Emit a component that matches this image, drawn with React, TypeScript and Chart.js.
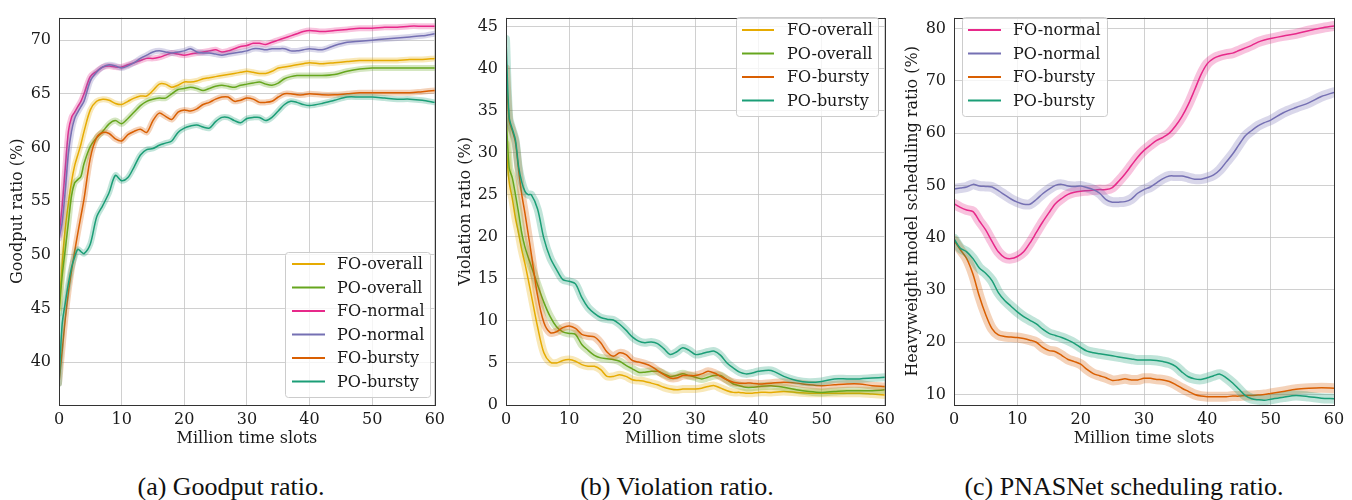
import React, { useEffect, useRef } from 'react';
import { Chart, registerables } from 'chart.js';

Chart.register(...registerables);

// ---------------- data ----------------
const X_AB = [0, 0.5, 1, 1.5, 2, 2.5, 3, 3.5, 4, 5, 6, 7, 8, 9, 10, 11, 12, 13, 14, 15, 16, 17, 18, 19, 20, 21, 22, 23, 24, 25, 26, 27, 28, 29, 30, 31, 32, 33, 34, 35, 36, 37, 38, 39, 40, 42, 44, 46, 48, 50, 52, 54, 56, 58, 60];
const X_C = [0, 1, 2, 3, 4, 5, 6, 7, 8, 9, 10, 11, 12, 13, 14, 15, 16, 17, 18, 19, 20, 21, 22, 23, 24, 25, 26, 27, 28, 29, 30, 31, 32, 33, 34, 35, 36, 37, 38, 39, 40, 41, 42, 43, 44, 45, 46, 47, 48, 49, 50, 52, 54, 56, 58, 60];
const X_TICKS = [0, 10, 20, 30, 40, 50, 60];

// (a) Goodput ratio (%)
const GOODPUT_FO_OVERALL = [45, 49, 52.5, 54.8, 56.8, 58.3, 59.3, 60.3, 61.5, 63.5, 64.3, 64.5, 64.4, 64.1, 64.0, 64.3, 64.6, 64.8, 64.8, 65.3, 65.9, 65.9, 65.6, 65.8, 66.1, 66.1, 66.2, 66.4, 66.5, 66.6, 66.7, 66.8, 66.9, 67.0, 67.1, 67.0, 66.9, 66.9, 67.1, 67.4, 67.5, 67.6, 67.7, 67.8, 67.9, 67.8, 67.9, 68.0, 68.1, 68.1, 68.1, 68.1, 68.2, 68.2, 68.3];
const GOODPUT_PO_OVERALL = [44.5, 48, 50.5, 53, 55.5, 56.7, 57, 57.3, 58.5, 60.1, 60.9, 61.5, 62.2, 62.5, 62.2, 62.7, 63.3, 63.9, 64.3, 64.5, 64.6, 64.6, 65.0, 65.4, 65.5, 65.6, 65.5, 65.3, 65.5, 65.7, 65.8, 65.7, 65.6, 65.8, 65.9, 66.0, 66.1, 65.9, 65.8, 66.0, 66.4, 66.6, 66.7, 66.7, 66.7, 66.7, 66.8, 67.1, 67.3, 67.4, 67.4, 67.4, 67.4, 67.4, 67.4];
const GOODPUT_FO_NORMAL = [51.8, 54.5, 58, 61.5, 62.8, 63.3, 63.8, 64.3, 65.0, 66.6, 67.1, 67.5, 67.6, 67.5, 67.5, 67.7, 67.9, 68.1, 68.3, 68.3, 68.4, 68.6, 68.8, 68.7, 68.6, 68.7, 68.8, 68.9, 69.0, 69.1, 68.9, 69.0, 69.2, 69.4, 69.5, 69.7, 69.7, 69.6, 69.8, 70.0, 70.2, 70.4, 70.6, 70.8, 70.9, 70.8, 70.9, 71.0, 71.1, 71.1, 71.2, 71.2, 71.3, 71.3, 71.3];
const GOODPUT_PO_NORMAL = [51.5, 53, 56, 59.5, 61.5, 62.7, 63.3, 63.8, 64.3, 66.2, 67.0, 67.5, 67.7, 67.6, 67.4, 67.6, 67.9, 68.3, 68.6, 68.9, 69.0, 68.9, 68.8, 68.9, 69.0, 69.2, 68.9, 68.8, 68.8, 68.7, 68.6, 68.7, 68.8, 68.9, 69.0, 69.2, 69.2, 69.1, 69.2, 69.2, 69.2, 69.0, 69.0, 69.1, 69.2, 69.1, 69.5, 69.8, 69.9, 70.0, 70.1, 70.2, 70.3, 70.4, 70.6];
const GOODPUT_FO_BURSTY = [38, 41, 44, 46.5, 48.5, 50.3, 52, 53.6, 55.2, 59, 60.9, 61.4, 61.3, 60.8, 60.6, 61.2, 61.5, 61.7, 61.4, 62.5, 63.2, 62.9, 62.6, 63.3, 63.5, 63.4, 63.6, 64.0, 64.2, 64.5, 64.7, 64.7, 64.3, 64.4, 64.6, 64.5, 64.2, 64.2, 64.3, 64.7, 65.0, 65.0, 64.9, 64.9, 65.0, 64.9, 64.9, 65.0, 65.1, 65.1, 65.1, 65.1, 65.1, 65.2, 65.3];
const GOODPUT_PO_BURSTY = [38, 43.5, 45.5, 47.3, 48.8, 49.8, 50.5, 50.3, 50.1, 51.0, 53.5, 54.6, 55.8, 57.4, 56.9, 57.2, 58.2, 59.3, 59.8, 59.9, 60.2, 60.4, 60.6, 61.4, 61.8, 62.0, 62.1, 61.9, 61.8, 62.4, 62.8, 62.8, 62.5, 62.3, 62.7, 62.8, 62.8, 62.5, 62.8, 63.4, 64.0, 64.3, 64.2, 64.0, 63.9, 64.1, 64.4, 64.7, 64.7, 64.7, 64.6, 64.5, 64.5, 64.4, 64.2];
const GOODPUT_TICKS = [40, 45, 50, 55, 60, 65, 70];

// (b) Violation ratio (%)
const VIOL_FO_OVERALL = [31, 26.5, 24.5, 22.2, 20.4, 18.4, 16.8, 15, 13.1, 9.3, 6.2, 5.1, 5.0, 5.3, 5.4, 5.2, 4.8, 4.6, 4.6, 4.2, 3.4, 3.4, 3.6, 3.4, 3.0, 2.9, 2.8, 2.6, 2.4, 2.1, 1.9, 1.8, 1.9, 1.9, 1.9, 2.0, 2.2, 2.3, 2.0, 1.7, 1.5, 1.5, 1.4, 1.4, 1.5, 1.5, 1.6, 1.5, 1.4, 1.4, 1.4, 1.4, 1.4, 1.3, 1.2];
const VIOL_PO_OVERALL = [35, 28.2, 27, 25, 22.8, 20.4, 18.8, 17.6, 16.5, 14.3, 12.2, 10.5, 9.3, 8.7, 8.5, 8.4, 7.2, 6.5, 5.9, 5.6, 5.5, 5.4, 5.2, 4.7, 4.3, 3.9, 3.9, 4.0, 4.0, 3.7, 3.4, 3.5, 3.7, 3.5, 3.3, 3.1, 3.3, 3.5, 3.5, 3.0, 2.5, 2.3, 2.1, 2.1, 2.2, 2.3, 2.1, 1.8, 1.6, 1.5, 1.6, 1.7, 1.7, 1.7, 1.8];
const VIOL_FO_BURSTY = [40, 33.8, 32.6, 31.2, 27.9, 25, 22.8, 20.4, 18.0, 13, 9.8, 8.6, 8.7, 9.2, 9.4, 9.1, 8.4, 8.2, 8.1, 7.4, 6.3, 5.8, 6.2, 6.0, 5.3, 5.1, 4.9, 4.6, 4.1, 3.6, 3.2, 3.2, 3.5, 3.5, 3.5, 3.7, 4.0, 3.8, 3.4, 3.0, 2.7, 2.6, 2.6, 2.6, 2.5, 2.6, 2.7, 2.6, 2.4, 2.3, 2.4, 2.5, 2.5, 2.3, 2.2];
const VIOL_PO_BURSTY = [43.5, 34.2, 32.8, 31.5, 28.3, 26.5, 25.4, 25.0, 25.0, 23.3, 19.8, 17.5, 16.1, 14.9, 14.7, 14.4, 12.8, 11.6, 10.9, 10.4, 10.2, 10.1, 9.6, 8.9, 8.1, 7.6, 7.4, 7.5, 7.3, 6.7, 6.0, 6.3, 6.8, 6.5, 6.0, 6.1, 6.3, 6.4, 5.9, 5.0, 4.4, 3.9, 3.7, 3.8, 4.0, 4.1, 3.4, 2.9, 2.7, 2.8, 3.1, 3.1, 3.1, 3.2, 3.3];
const VIOL_TICKS = [0, 5, 10, 15, 20, 25, 30, 35, 40, 45];

// (c) Heavyweight model scheduling ratio (%)
const SCHED_FO_NORMAL = [46.5, 45.8, 45.3, 45.0, 43.2, 41.5, 39.3, 37.3, 36.2, 36.0, 36.4, 37.3, 39.0, 41.0, 43.0, 44.8, 46.5, 47.5, 48.3, 48.7, 48.9, 49.0, 49.1, 49.2, 49.2, 49.6, 50.8, 52.2, 53.8, 55.4, 56.7, 57.7, 58.6, 59.2, 60.0, 61.4, 63.2, 65.5, 68.3, 71.2, 73.3, 74.3, 74.8, 75.1, 75.3, 75.8, 76.3, 76.8, 77.4, 77.8, 78.1, 78.6, 79.0, 79.6, 80.1, 80.5];
const SCHED_PO_NORMAL = [49.3, 49.5, 49.7, 50.2, 49.9, 49.8, 49.7, 49.0, 48.2, 47.4, 46.8, 46.4, 46.4, 47.3, 48.4, 49.3, 50.0, 50.2, 49.9, 49.8, 49.9, 49.6, 49.2, 48.5, 47.3, 46.8, 46.8, 46.9, 47.4, 48.5, 49.2, 49.7, 50.5, 51.3, 51.8, 51.8, 51.8, 51.5, 51.2, 51.2, 51.5, 52.0, 53.0, 54.5, 56.0, 57.8, 59.5, 60.5, 61.4, 62.0, 62.5, 63.9, 64.9, 65.8, 67.0, 67.8];
const SCHED_FO_BURSTY = [39.5, 37.7, 36.0, 33.0, 28.8, 25.3, 22.6, 21.4, 21.1, 21.0, 20.9, 20.7, 20.4, 20.0, 19.0, 18.4, 18.2, 17.5, 16.7, 16.3, 15.8, 14.8, 14.0, 13.6, 13.2, 12.7, 12.8, 13.0, 12.8, 12.8, 13.1, 13.1, 12.9, 12.8, 12.5, 11.9, 11.2, 10.6, 10.0, 9.7, 9.6, 9.6, 9.6, 9.6, 9.7, 9.7, 9.8, 9.8, 9.9, 10.0, 10.2, 10.6, 11.0, 11.2, 11.3, 11.2];
const SCHED_PO_BURSTY = [39.8, 38.0, 37.3, 36.0, 34.2, 33.2, 31.8, 29.5, 28.0, 26.9, 25.8, 24.9, 24.2, 23.5, 22.5, 21.7, 21.3, 20.9, 20.4, 19.8, 19.0, 18.3, 18.0, 17.8, 17.6, 17.4, 17.2, 17.0, 16.8, 16.6, 16.6, 16.6, 16.5, 16.3, 16.0, 15.4, 14.3, 13.4, 13.0, 12.9, 13.2, 13.6, 13.9, 13.2, 12.2, 11.0, 9.8, 9.2, 9.0, 8.9, 9.1, 9.5, 9.8, 9.6, 9.3, 9.2];
const SCHED_TICKS = [10, 20, 30, 40, 50, 60, 70, 80];

// ---------------- styles ----------------
const COLORS: Record<string, string> = {
  'FO-overall': '#e6ab02',
  'PO-overall': '#66a61e',
  'FO-normal': '#e7298a',
  'PO-normal': '#7570b3',
  'FO-bursty': '#d95f02',
  'PO-bursty': '#1b9e77',
};
const FONT_FAMILY = '"DejaVu Serif", serif';
const FONT_SIZE = 16;
const TEXT = '#1a1a1a';
const GRID = '#c4c4c4';

function rgba(hex: string, a: number) {
  const n = parseInt(hex.slice(1), 16);
  return `rgba(${(n >> 16) & 255},${(n >> 8) & 255},${n & 255},${a})`;
}

type Series = { label: string; data: number[] };
type LegendSpec = { boxX: number; boxY: number; boxW: number; boxH: number; rowY0: number; rowDy: number; lineX0: number; lineX1: number; textX: number };

interface PanelProps {
  left: number;
  width: number;
  height: number;
  xs: number[];
  series: Series[];
  yMin: number;
  yMax: number;
  yTicks: number[];
  yTitle: string;
  yAxisW: number;
  padRight: number;
  yTitlePad: number;
  band: number;
  legend: LegendSpec;
}

function Panel(p: PanelProps) {
  const ref = useRef<HTMLCanvasElement>(null);
  useEffect(() => {
    const canvas = ref.current;
    if (!canvas) return;
    const n = p.series.length;
    const datasets: any[] = [];
    p.series.forEach((s, i) => {
      const pts = p.xs.map((x, j) => ({ x, y: s.data[j] }));
      const col = COLORS[s.label];
      datasets.push({
        label: s.label + ' band',
        data: pts,
        borderColor: rgba(col, 0.28),
        backgroundColor: 'transparent',
        borderWidth: p.band,
        borderJoinStyle: 'round',
        borderCapStyle: 'round',
        pointRadius: 0,
        tension: 0.3,
        clip: 0,
        order: 2 * (n - i) + 1,
      });
      datasets.push({
        label: s.label,
        data: pts,
        borderColor: col,
        backgroundColor: 'transparent',
        borderWidth: 1.5,
        pointRadius: 0,
        tension: 0.3,
        clip: 0,
        order: 2 * (n - i),
      });
    });

    const font = { family: FONT_FAMILY, size: FONT_SIZE };
    const lg = p.legend;
    const framePlugin = {
      id: 'frameAndLegend',
      afterDraw(chart: any) {
        const { ctx, chartArea: a } = chart;
        ctx.save();
        ctx.strokeStyle = '#333';
        ctx.lineWidth = 1;
        ctx.strokeRect(Math.round(a.left) + 0.5, Math.round(a.top) + 0.5, Math.round(a.right - a.left), Math.round(a.bottom - a.top));
        // legend
        ctx.fillStyle = 'rgba(255,255,255,0.8)';
        ctx.strokeStyle = '#cccccc';
        ctx.lineWidth = 1;
        const r = 3;
        const x0 = lg.boxX + 0.5, y0 = lg.boxY + 0.5, w = lg.boxW, h = lg.boxH;
        ctx.beginPath();
        ctx.moveTo(x0 + r, y0);
        ctx.lineTo(x0 + w - r, y0);
        ctx.arcTo(x0 + w, y0, x0 + w, y0 + r, r);
        ctx.lineTo(x0 + w, y0 + h - r);
        ctx.arcTo(x0 + w, y0 + h, x0 + w - r, y0 + h, r);
        ctx.lineTo(x0 + r, y0 + h);
        ctx.arcTo(x0, y0 + h, x0, y0 + h - r, r);
        ctx.lineTo(x0, y0 + r);
        ctx.arcTo(x0, y0, x0 + r, y0, r);
        ctx.closePath();
        ctx.fill();
        ctx.stroke();
        ctx.font = `${FONT_SIZE}px ${FONT_FAMILY}`;
        ctx.textBaseline = 'middle';
        ctx.textAlign = 'left';
        p.series.forEach((s, i) => {
          const y = lg.rowY0 + i * lg.rowDy;
          ctx.strokeStyle = COLORS[s.label];
          ctx.lineWidth = 2;
          ctx.beginPath();
          ctx.moveTo(lg.lineX0, y);
          ctx.lineTo(lg.lineX1, y);
          ctx.stroke();
          ctx.fillStyle = TEXT;
          ctx.fillText(s.label, lg.textX, y + 1);
        });
        ctx.restore();
      },
    };

    const chart = new Chart(canvas, {
      type: 'line',
      data: { datasets },
      plugins: [framePlugin],
      options: {
        responsive: false,
        animation: false,
        devicePixelRatio: 1,
        events: [],
        layout: { padding: { left: 0, top: 8, right: p.padRight, bottom: 0 } },
        plugins: { legend: { display: false }, tooltip: { enabled: false }, title: { display: false } },
        scales: {
          x: {
            type: 'linear',
            min: 0,
            max: 60,
            afterBuildTicks: (s: any) => { s.ticks = X_TICKS.map((v) => ({ value: v })); },
            afterFit: (s: any) => { s.height = p.height - 405; },
            grid: { color: GRID, lineWidth: 0.8, drawTicks: false },
            border: { display: false },
            ticks: { font, color: TEXT, padding: 5, maxRotation: 0, callback: (v: any) => String(v) },
            title: { display: true, text: 'Million time slots', font, color: TEXT, padding: { top: 0, bottom: 1.4 } },
          },
          y: {
            type: 'linear',
            min: p.yMin,
            max: p.yMax,
            afterBuildTicks: (s: any) => { s.ticks = p.yTicks.map((v) => ({ value: v })); },
            afterFit: (s: any) => { s.width = p.yAxisW; },
            grid: { color: GRID, lineWidth: 0.8, drawTicks: false },
            border: { display: false },
            ticks: { font, color: TEXT, padding: 8, callback: (v: any) => String(v) },
            title: { display: true, text: p.yTitle, font, color: TEXT, padding: { top: p.yTitlePad, bottom: 0 } },
          },
        },
      } as any,
    });
    return () => chart.destroy();
  }, []);
  return (
    <canvas
      ref={ref}
      width={p.width}
      height={p.height}
      style={{ position: 'absolute', left: p.left, top: 0, width: p.width, height: p.height }}
    />
  );
}

const captionStyle = (cx: number): React.CSSProperties => ({
  position: 'absolute',
  left: cx - 250,
  width: 500,
  top: 472,
  textAlign: 'center',
  fontFamily: '"Liberation Serif", serif',
  fontSize: 26,
  lineHeight: '30px',
  color: '#111',
  whiteSpace: 'nowrap',
});

export default function App() {
  const H = 450;
  return (
    <div style={{ position: 'absolute', left: 0, top: 0, width: 1352, height: 500, background: '#fff', overflow: 'hidden' }}>
      <Panel
        left={0}
        width={450}
        height={H}
        xs={X_AB}
        series={[
          { label: 'FO-overall', data: GOODPUT_FO_OVERALL },
          { label: 'PO-overall', data: GOODPUT_PO_OVERALL },
          { label: 'FO-normal', data: GOODPUT_FO_NORMAL },
          { label: 'PO-normal', data: GOODPUT_PO_NORMAL },
          { label: 'FO-bursty', data: GOODPUT_FO_BURSTY },
          { label: 'PO-bursty', data: GOODPUT_PO_BURSTY },
        ]}
        yMin={36}
        yMax={72.1}
        yTicks={GOODPUT_TICKS}
        yTitle="Goodput ratio (%)"
        yAxisW={59}
        padRight={11}
        yTitlePad={8.4}
        band={6}
        legend={{ boxX: 285, boxY: 252, boxW: 145, boxH: 145, rowY0: 264, rowDy: 23.5, lineX0: 292, lineX1: 325, textX: 337 }}
      />
      <Panel
        left={450}
        width={450}
        height={H}
        xs={X_AB}
        series={[
          { label: 'FO-overall', data: VIOL_FO_OVERALL },
          { label: 'PO-overall', data: VIOL_PO_OVERALL },
          { label: 'FO-bursty', data: VIOL_FO_BURSTY },
          { label: 'PO-bursty', data: VIOL_PO_BURSTY },
        ]}
        yMin={0}
        yMax={46.05}
        yTicks={VIOL_TICKS}
        yTitle="Violation ratio (%)"
        yAxisW={56}
        padRight={14}
        yTitlePad={6.4}
        band={8}
        legend={{ boxX: 286, boxY: 17, boxW: 142, boxH: 99, rowY0: 30, rowDy: 23.5, lineX0: 292, lineX1: 324, textX: 337 }}
      />
      <Panel
        left={900}
        width={452}
        height={H}
        xs={X_C}
        series={[
          { label: 'FO-normal', data: SCHED_FO_NORMAL },
          { label: 'PO-normal', data: SCHED_PO_NORMAL },
          { label: 'FO-bursty', data: SCHED_FO_BURSTY },
          { label: 'PO-bursty', data: SCHED_PO_BURSTY },
        ]}
        yMin={8}
        yMax={82.1}
        yTicks={SCHED_TICKS}
        yTitle="Heavyweight model scheduling ratio (%)"
        yAxisW={54}
        padRight={18}
        yTitlePad={3.4}
        band={10}
        legend={{ boxX: 62, boxY: 17, boxW: 145, boxH: 99, rowY0: 30, rowDy: 23.5, lineX0: 68, lineX1: 101, textX: 113 }}
      />
      <div style={captionStyle(231)}>(a) Goodput ratio.</div>
      <div style={captionStyle(677)}>(b) Violation ratio.</div>
      <div style={captionStyle(1124)}>(c) PNASNet scheduling ratio.</div>
    </div>
  );
}
